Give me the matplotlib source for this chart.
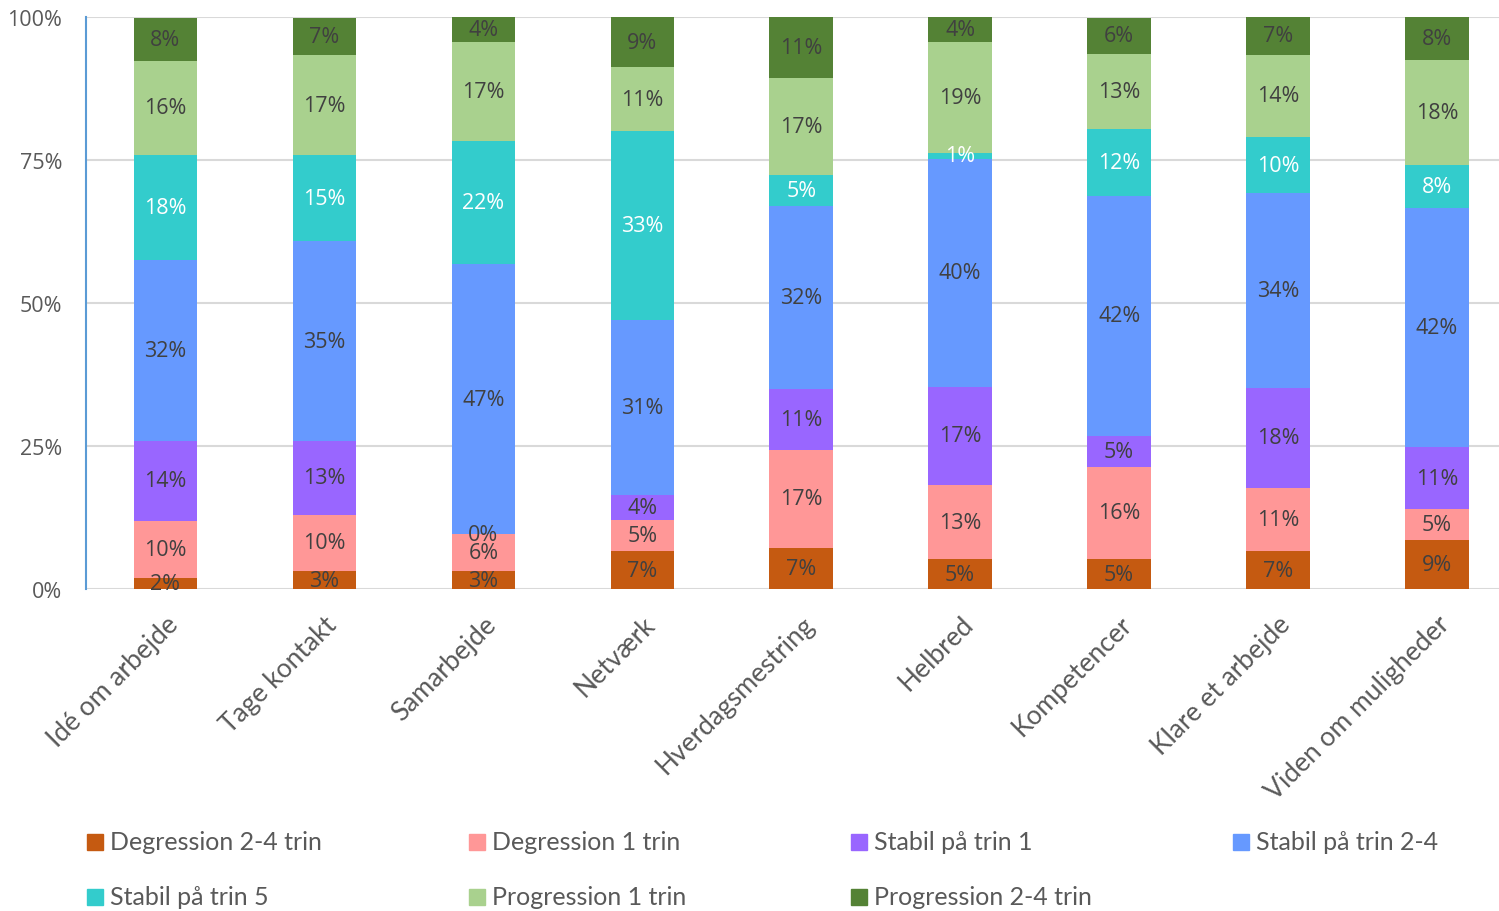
import numpy as np
import matplotlib
matplotlib.use("Agg")
import matplotlib.pyplot as plt
from matplotlib.patches import Rectangle


categories = [
    "Idé om arbejde",
    "Tage kontakt",
    "Samarbejde",
    "Netværk",
    "Hverdagsmestring",
    "Helbred",
    "Kompetencer",
    "Klare et arbejde",
    "Viden om muligheder",
]

series_names = [
    "Degression 2-4 trin",
    "Degression 1 trin",
    "Stabil på trin 1",
    "Stabil på trin 2-4",
    "Stabil på trin 5",
    "Progression 1 trin",
    "Progression 2-4 trin",
]

# shares in percent, one list per series
degression_2_4 = [2.0, 3.1, 3.1, 6.6, 7.2, 5.2, 5.2, 6.6, 8.6]
degression_1 = [9.9, 9.9, 6.5, 5.4, 17.1, 13.0, 16.2, 11.0, 5.4]
stabil_1 = [14.0, 12.9, 0.0, 4.4, 10.7, 17.2, 5.4, 17.6, 10.8]
stabil_2_4 = [31.6, 34.9, 47.2, 30.7, 31.9, 39.8, 41.9, 34.0, 41.8]
stabil_5 = [18.4, 15.1, 21.6, 33.0, 5.4, 1.1, 11.7, 9.8, 7.6]
progression_1 = [16.4, 17.4, 17.2, 11.1, 17.0, 19.3, 13.1, 14.4, 18.3]
progression_2_4 = [7.6, 6.6, 4.4, 8.8, 10.7, 4.4, 6.4, 6.6, 7.6]

series = [degression_2_4, degression_1, stabil_1, stabil_2_4,
          stabil_5, progression_1, progression_2_4]

colors = ["#C55A11", "#FF9797", "#9966FF", "#6699FF",
          "#33CCCC", "#A9D18E", "#548235"]
label_colors = ["#404040", "#404040", "#404040", "#404040",
                "#FFFFFF", "#404040", "#404040"]

plt.rcParams["font.family"] = ["Open Sans", "DejaVu Sans"]
legend_font = ["Lato", "DejaVu Sans"]

W, H = 1499, 912
fig = plt.figure(figsize=(W / 100, H / 100), dpi=100)
ax = fig.add_axes([86 / W, 1 - 590 / H, (W - 86) / W, (590 - 18) / H])

x = np.arange(len(categories))
bottom = np.zeros(len(categories))
for vals, col, lcol in zip(series, colors, label_colors):
    vals = np.array(vals)
    ax.bar(x, vals, 0.4, bottom=bottom, color=col, zorder=3)
    for xi, b, v in zip(x, bottom, vals):
        ax.text(xi, b + v / 2, f"{v:.0f}%", ha="center", va="center",
                color=lcol, fontsize=15.5, zorder=4, clip_on=False)
    bottom += vals

ax.set_xlim(-0.5, 8.39)
ax.set_ylim(0, 100)
ax.set_yticks([0, 25, 50, 75, 100])
ax.set_yticklabels(["0%", "25%", "50%", "75%", "100%"], color="#595959", fontsize=15.5)
ax.yaxis.grid(True, color="#D9D9D9", linewidth=1.5, zorder=0)
ax.tick_params(axis="both", length=0)
ax.tick_params(axis="y", pad=17)

ax.set_xticks(x)
ax.set_xticklabels(categories, rotation=45, ha="right", va="top",
                   rotation_mode="anchor", color="#595959", fontsize=19,
                   family=legend_font)
ax.tick_params(axis="x", pad=16)

for s in ["top", "right", "bottom"]:
    ax.spines[s].set_visible(False)
ax.spines["left"].set_color("#5B9BD5")
ax.spines["left"].set_linewidth(1.5)

# legend laid out by hand: 4 per row like the original
for i, (name, col) in enumerate(zip(series_names, colors)):
    row, c = divmod(i, 4)
    px = 87 + c * 382
    py = 843 + row * 55
    fig.patches.append(Rectangle((px / W, 1 - (py + 8) / H), 16 / W, 16 / H,
                                 transform=fig.transFigure, color=col))
    fig.text((px + 23) / W, 1 - py / H, name, ha="left", va="center",
             color="#595959", fontsize=18, family=legend_font)

fig.savefig("out.png", dpi=100)
